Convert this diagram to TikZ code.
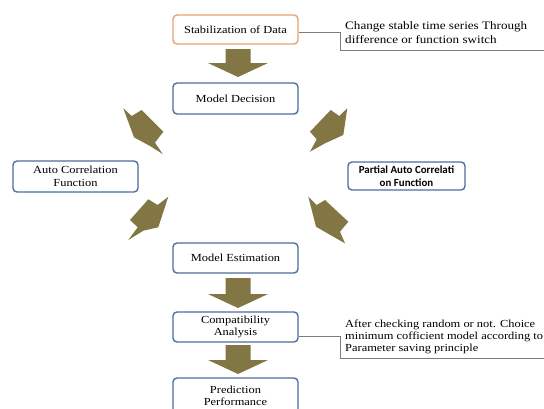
\documentclass[tikz,border=0pt]{standalone}
\usepackage{fontspec}
\setmainfont[FakeStretch=1.15]{Liberation Serif}
\newfontfamily\sansb{Carlito}
\definecolor{arrowolive}{RGB}{130,119,68}
\definecolor{boxblue}{RGB}{78,110,158}
\definecolor{boxorange}{RGB}{232,162,112}
\definecolor{callgray}{RGB}{125,125,125}
\begin{document}
\begin{tikzpicture}[x=1pt,y=-1pt,
  flowbox/.style={draw=boxblue, line width=1.4pt, rounded corners=4pt, fill=white,
    align=center, inner sep=0pt, minimum width=125pt, minimum height=30pt,
    font=\fontsize{10.8}{12.5}\selectfont},
  blockarrow/.style={fill=arrowolive, draw=none},
  callline/.style={draw=callgray, line width=0.8pt},
  calltext/.style={anchor=west, align=left, inner sep=0pt}]
\clip (0,0) rectangle (544,408);
\fill[white] (0,0) rectangle (544,408);

% boxes
\node[flowbox, draw=boxorange, minimum height=29pt] (stab) at (235.5,29.5) {Stabilization of Data};
\node[flowbox, minimum height=31pt] (md) at (235.5,98.5) {Model Decision};
\node[flowbox, minimum width=125pt, minimum height=31pt] (acf) at (75.5,176.5) {Auto Correlation\\Function};
\node[flowbox, minimum width=117pt, minimum height=28pt, font=\sansb\bfseries\fontsize{10.9}{12.5}\selectfont] (pacf) at (406.5,176) {Partial Auto Correlati\\on Function};
\node[flowbox] (me) at (235.5,258) {Model Estimation};
\node[flowbox] (ca) at (235.5,327) {Compatibility\\Analysis};
\node[flowbox, minimum height=36pt] (pp) at (235.5,396) {Prediction\\Performance};

% vertical block arrows
\foreach \t/\b/\p in {49/63/77, 278/294/308, 345/360/374}
  \fill[blockarrow] (225.5,\t) -- (250.5,\t) -- (250.5,\b) -- (268,\b) -- (238,\p) -- (208,\b) -- (225.5,\b) -- cycle;

% diagonal block arrows
\fill[blockarrow] (123.3,108.3) -- (131.7,116) -- (141.7,110) -- (163.3,131.7) -- (155,142.7) -- (162.7,154) -- (150,146) -- (134,137.3) -- cycle;
\fill[blockarrow] (148.3,199.3) -- (157.7,205) -- (168.3,196.7) -- (158.3,227.3) -- (143.3,230.7) -- (128.3,240) -- (137.7,227.3) -- (130,220) -- cycle;
\fill[blockarrow] (330.7,110) -- (339.3,116) -- (347.3,108.3) -- (343.3,135) -- (325,143.3) -- (310,151.7) -- (316.7,139.3) -- (310,131.7) -- cycle;
\fill[blockarrow] (308.3,196.7) -- (316.7,205) -- (325,200) -- (348.3,221.7) -- (340,231.7) -- (345,243.3) -- (333.3,236.7) -- (316,226.7) -- cycle;

% callouts
\node[calltext, font=\fontsize{11.4}{14}\selectfont] (c1) at (345,33) {Change stable time series Through\\difference or function switch};
\node[calltext, font=\fontsize{10.8}{11.7}\selectfont] (c2) at (345,336.7) {After checking random or not. Choice\\minimum cofficient model according to\\Parameter saving principle};

\coordinate (k1) at (340,32);
\coordinate (k1b) at (340,50);
\coordinate (k1c) at (544,50);
\draw[callline] (stab.east |- k1) -- (k1) -- (k1b) -- (k1c);
\coordinate (k2) at (340,336);
\coordinate (k2b) at (340,358);
\coordinate (k2c) at (544,358);
\draw[callline] (ca.east |- k2) -- (k2) -- (k2b) -- (k2c);
\end{tikzpicture}
\end{document}
